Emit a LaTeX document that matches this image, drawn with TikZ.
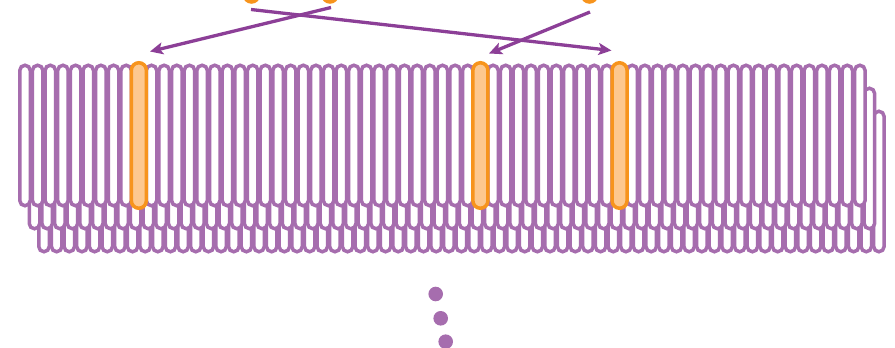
\documentclass[tikz,border=0pt]{standalone}
\usetikzlibrary{arrows.meta}
\definecolor{pillpurple}{HTML}{A66DAE}
\definecolor{arrowpurple}{HTML}{8C3F97}
\definecolor{orangeline}{HTML}{F7941D}
\definecolor{orangefill}{HTML}{FDC88F}
\tikzset{
  pill/.style={draw=pillpurple, fill=white, line width=3.5pt, rectangle,
    rounded corners=5.25pt, minimum width=10.5pt, minimum height=140.5pt, inner sep=0pt, outer sep=0pt},
  hlpill/.style={draw=orangeline, fill=orangefill, line width=3.5pt, rectangle,
    rounded corners=7.5pt, minimum width=15pt, minimum height=145.5pt, inner sep=0pt, outer sep=0pt},
  topdot/.style={circle, draw=orangeline, fill=orangefill, line width=3.5pt, minimum size=14pt, inner sep=0pt},
  swap/.style={draw=arrowpurple, line width=3.3pt, -{Stealth[length=13pt,width=12pt,inset=3pt]}},
  moredot/.style={circle, fill=pillpurple, minimum size=14.6pt, inner sep=0pt}
}
\begin{document}
\begin{tikzpicture}[x=1pt,y=-1pt]
\useasboundingbox (0,0) rectangle (895,348);
% back rows
\foreach \r/\dx/\dy in {3/19/46, 2/9.5/23}{
  \foreach \i in {0,...,66}{
    \node[pill] (p\r-\i) at ({25+12.65*\i+\dx},{135.5+\dy}) {};
  }
}
% front row
\foreach \i in {0,...,66}{
  \node[pill] (p1-\i) at ({25+12.65*\i},135.5) {};
}
% highlighted pills
\node[hlpill] (h1) at ({25+12.65*9},135.5) {};
\node[hlpill] (h2) at ({25+12.65*36},135.5) {};
\node[hlpill] (h3) at ({25+12.65*47},135.5) {};
% top elements (cut off)
\node[topdot] (t1) at (251.5,-5) {};
\node[topdot] (t2) at (330,-5) {};
\node[topdot] (t3) at (589.5,-5) {};
\coordinate (a1s) at (331,7.5);
\coordinate (a1e) at (150,51.5);
\coordinate (a2s) at (251,9.5);
\coordinate (a2e) at (611.5,50.5);
\coordinate (a3s) at (590,12);
\coordinate (a3e) at (489,53.5);
\draw[swap] (a1s) -- (a1e);
\draw[swap] (a2s) -- (a2e);
\draw[swap] (a3s) -- (a3e);
% continuation dots
\node[moredot] (d1) at (435.7,294) {};
\node[moredot] (d2) at (440.7,318.3) {};
\node[moredot] (d3) at (445.7,341.7) {};
\end{tikzpicture}
\end{document}
